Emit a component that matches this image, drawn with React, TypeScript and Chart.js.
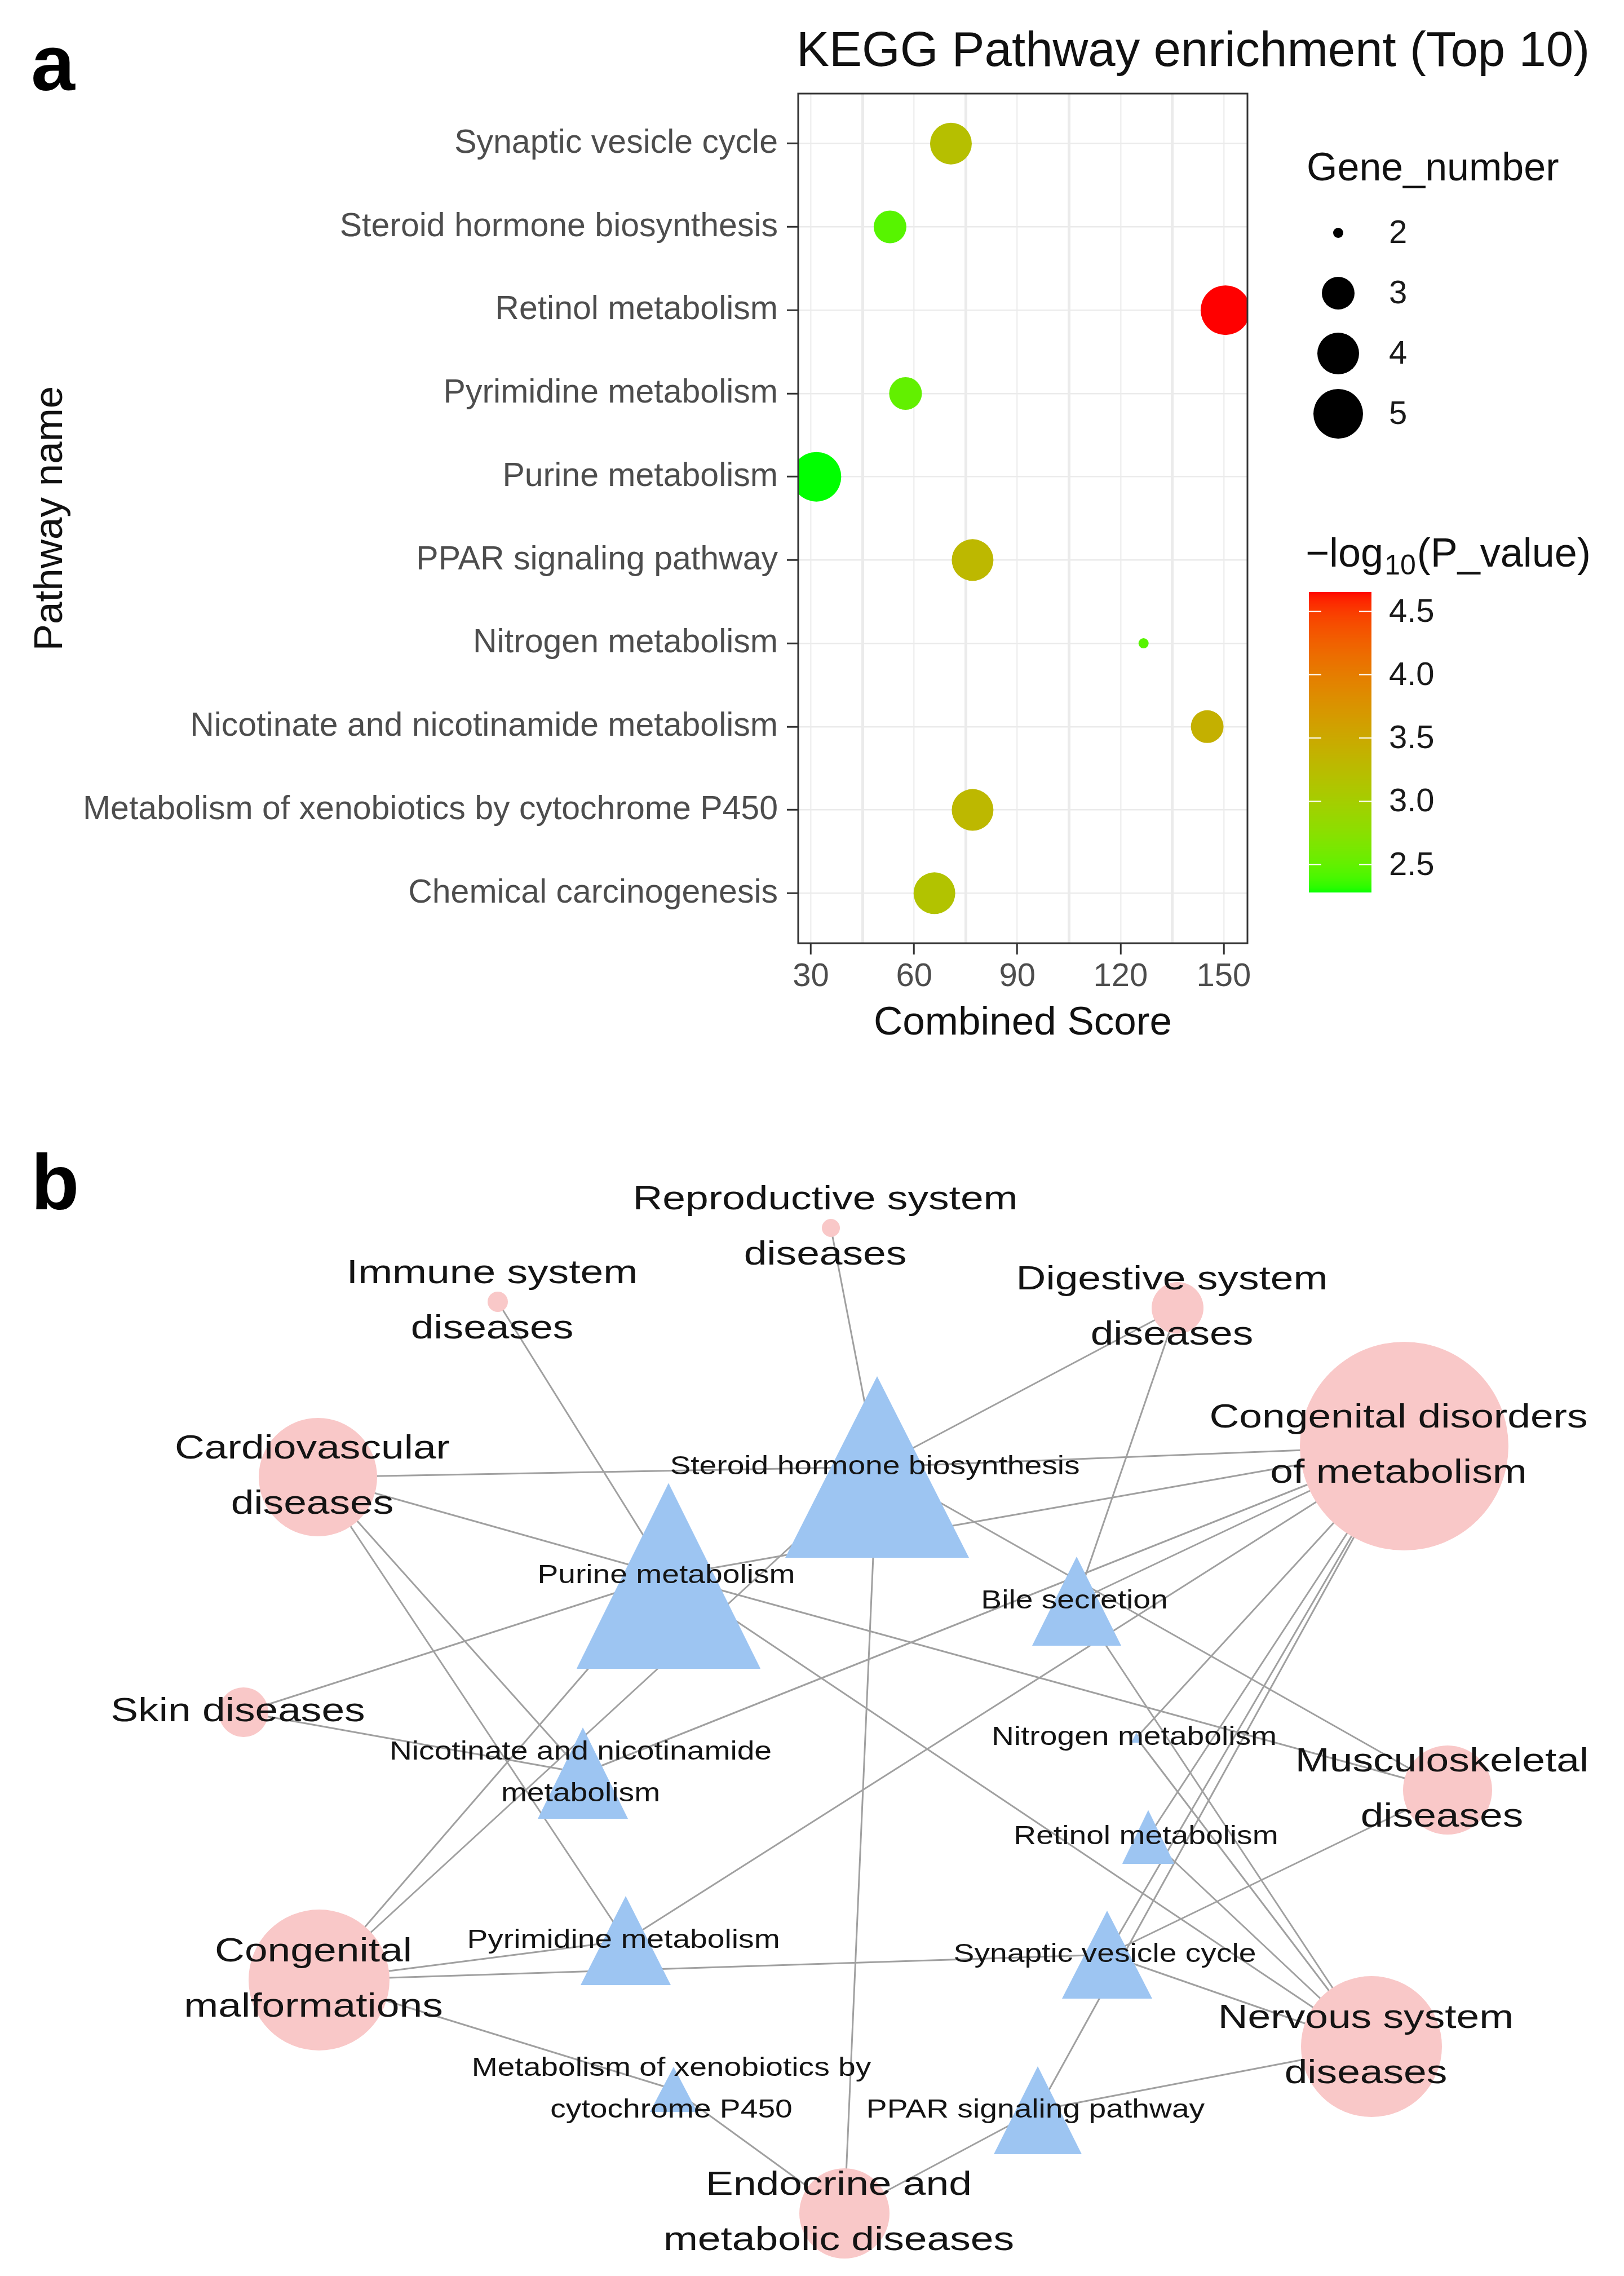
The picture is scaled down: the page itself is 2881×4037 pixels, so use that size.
import React, { useEffect, useRef } from 'react';
import { Chart, registerables } from 'chart.js';

Chart.register(...registerables);

const FONT = "'Liberation Sans', Arial, Helvetica, sans-serif";

// ---------------- Panel a : KEGG bubble chart data ----------------
const pathwaysA = [
  'Synaptic vesicle cycle',
  'Steroid hormone biosynthesis',
  'Retinol metabolism',
  'Pyrimidine metabolism',
  'Purine metabolism',
  'PPAR signaling pathway',
  'Nitrogen metabolism',
  'Nicotinate and nicotinamide metabolism',
  'Metabolism of xenobiotics by cytochrome P450',
  'Chemical carcinogenesis',
];
const combinedScore = [70.7, 53.0, 150.5, 57.5, 31.6, 77.0, 126.7, 145.2, 77.0, 65.9];
const geneNumber = [4, 3, 5, 3, 5, 4, 2, 3, 4, 4];
const negLog10P = [3.2, 2.45, 4.654, 2.5, 2.28, 3.3, 2.45, 3.4, 3.3, 3.15];
const xTickValues = [30, 45, 60, 75, 90, 105, 120, 135, 150];
const sizeLegendValues = [2, 3, 4, 5];
const colorLegendTicks = [4.5, 4.0, 3.5, 3.0, 2.5];

// ---------------- Panel b : network data ----------------
const diseaseNames = [
  'Reproductive system diseases',
  'Immune system diseases',
  'Digestive system diseases',
  'Congenital disorders of metabolism',
  'Cardiovascular diseases',
  'Skin diseases',
  'Musculoskeletal diseases',
  'Congenital malformations',
  'Nervous system diseases',
  'Endocrine and metabolic diseases',
];
const diseaseLabelLines = [
  ['Reproductive system', 'diseases'],
  ['Immune system', 'diseases'],
  ['Digestive system', 'diseases'],
  ['Congenital disorders', 'of metabolism'],
  ['Cardiovascular', 'diseases'],
  ['Skin diseases'],
  ['Musculoskeletal', 'diseases'],
  ['Congenital', 'malformations'],
  ['Nervous system', 'diseases'],
  ['Endocrine and', 'metabolic diseases'],
];
// network layout (node centres) and node sizes
const diseaseX = [1474, 883, 2089, 2491, 564, 432, 2568, 566, 2433, 1498];
const diseaseY = [2178, 2309, 2320, 2565, 2620, 3037, 3175, 3512, 3630, 3926];
const diseaseRadius = [16, 18, 46, 185, 105, 44, 79, 125, 125, 80];

const pathwayNames = [
  'Steroid hormone biosynthesis',
  'Purine metabolism',
  'Bile secretion',
  'Nicotinate and nicotinamide metabolism',
  'Nitrogen metabolism',
  'Retinol metabolism',
  'Pyrimidine metabolism',
  'Synaptic vesicle cycle',
  'Metabolism of xenobiotics by cytochrome P450',
  'PPAR signaling pathway',
];
const pathwayLabelLines = [
  ['Steroid hormone biosynthesis'],
  ['Purine metabolism'],
  ['Bile secretion'],
  ['Nicotinate and nicotinamide', 'metabolism'],
  ['Nitrogen metabolism'],
  ['Retinol metabolism'],
  ['Pyrimidine metabolism'],
  ['Synaptic vesicle cycle'],
  ['Metabolism of xenobiotics by', 'cytochrome P450'],
  ['PPAR signaling pathway'],
];
const pathwayX = [1556, 1186, 1910, 1034, 2016, 2037, 1110, 1964, 1195, 1841];
const pathwayY = [2602, 2795, 2840, 3145, 3082, 3258, 3442, 3467, 3706, 3743];
const pathwayHalfWidth = [163, 163, 79, 80, 9, 46, 80, 80, 42, 78];
const pathwayHeight = [322, 329, 158, 162, 18, 95, 158, 156, 80, 156];

const edgePathway = [
  'Steroid hormone biosynthesis', 'Steroid hormone biosynthesis', 'Steroid hormone biosynthesis',
  'Steroid hormone biosynthesis', 'Steroid hormone biosynthesis', 'Steroid hormone biosynthesis',
  'Steroid hormone biosynthesis',
  'Purine metabolism', 'Purine metabolism', 'Purine metabolism', 'Purine metabolism',
  'Purine metabolism', 'Purine metabolism', 'Purine metabolism',
  'Bile secretion', 'Bile secretion', 'Bile secretion',
  'Nicotinate and nicotinamide metabolism', 'Nicotinate and nicotinamide metabolism',
  'Nicotinate and nicotinamide metabolism',
  'Nitrogen metabolism', 'Nitrogen metabolism',
  'Retinol metabolism', 'Retinol metabolism',
  'Pyrimidine metabolism', 'Pyrimidine metabolism', 'Pyrimidine metabolism',
  'Synaptic vesicle cycle', 'Synaptic vesicle cycle', 'Synaptic vesicle cycle', 'Synaptic vesicle cycle',
  'Metabolism of xenobiotics by cytochrome P450', 'Metabolism of xenobiotics by cytochrome P450',
  'PPAR signaling pathway', 'PPAR signaling pathway', 'PPAR signaling pathway',
];
const edgeDisease = [
  'Reproductive system diseases', 'Digestive system diseases', 'Cardiovascular diseases',
  'Congenital disorders of metabolism', 'Endocrine and metabolic diseases', 'Musculoskeletal diseases',
  'Congenital malformations',
  'Immune system diseases', 'Cardiovascular diseases', 'Skin diseases', 'Congenital disorders of metabolism',
  'Musculoskeletal diseases', 'Nervous system diseases', 'Congenital malformations',
  'Digestive system diseases', 'Congenital disorders of metabolism', 'Nervous system diseases',
  'Cardiovascular diseases', 'Skin diseases', 'Congenital disorders of metabolism',
  'Congenital disorders of metabolism', 'Nervous system diseases',
  'Congenital disorders of metabolism', 'Nervous system diseases',
  'Cardiovascular diseases', 'Congenital malformations', 'Congenital disorders of metabolism',
  'Congenital malformations', 'Congenital disorders of metabolism', 'Musculoskeletal diseases', 'Nervous system diseases',
  'Congenital malformations', 'Endocrine and metabolic diseases',
  'Congenital disorders of metabolism', 'Endocrine and metabolic diseases', 'Nervous system diseases',
];

// ---------------- styling constants ----------------
const PAGE_W = 2881;
const PAGE_H = 4037;
const CANVAS_A_H = 1950;
const A_LEFT = 1416;
const A_RIGHT = 2213;
const A_TOP = 166;
const A_BOTTOM = 1673;
const SIZE_RADIUS: Record<number, number> = { 2: 9, 3: 29, 4: 37, 5: 44 };
const DISEASE_COLOR = '#F9C8C8';
const PATHWAY_COLOR = '#9DC5F2';
const EDGE_COLOR = '#A0A0A0';

// ---------------- CIELAB colour ramp (green -> red) ----------------
function srgb2lin(c: number) {
  c /= 255;
  return c <= 0.04045 ? c / 12.92 : Math.pow((c + 0.055) / 1.055, 2.4);
}
function lin2srgb(c: number) {
  const v = c <= 0.0031308 ? 12.92 * c : 1.055 * Math.pow(c, 1 / 2.4) - 0.055;
  return Math.round(Math.max(0, Math.min(1, v)) * 255);
}
function rgb2lab(rgb: number[]) {
  const R = srgb2lin(rgb[0]), G = srgb2lin(rgb[1]), B = srgb2lin(rgb[2]);
  const X = (0.4124564 * R + 0.3575761 * G + 0.1804375 * B) / 0.95047;
  const Y = 0.2126729 * R + 0.7151522 * G + 0.072175 * B;
  const Z = (0.0193339 * R + 0.119192 * G + 0.9503041 * B) / 1.08883;
  const f = (t: number) => (t > 216 / 24389 ? Math.cbrt(t) : ((24389 / 27) * t + 16) / 116);
  const fx = f(X), fy = f(Y), fz = f(Z);
  return [116 * fy - 16, 500 * (fx - fy), 200 * (fy - fz)];
}
function lab2rgb(lab: number[]) {
  const fy = (lab[0] + 16) / 116;
  const fx = fy + lab[1] / 500;
  const fz = fy - lab[2] / 200;
  const finv = (t: number) => (t * t * t > 216 / 24389 ? t * t * t : (116 * t - 16) / (24389 / 27));
  const X = finv(fx) * 0.95047, Y = finv(fy), Z = finv(fz) * 1.08883;
  const R = 3.2404542 * X - 1.5371385 * Y - 0.4985314 * Z;
  const G = -0.969266 * X + 1.8760108 * Y + 0.041556 * Z;
  const B = 0.0556434 * X - 0.2040259 * Y + 1.0572252 * Z;
  return [lin2srgb(R), lin2srgb(G), lin2srgb(B)];
}
const LAB_LOW = rgb2lab([0, 255, 0]);
const LAB_HIGH = rgb2lab([255, 0, 0]);
const P_MIN = Math.min(...negLog10P);
const P_MAX = Math.max(...negLog10P);
function colorFor(v: number) {
  const t = Math.max(0, Math.min(1, (v - P_MIN) / (P_MAX - P_MIN)));
  const lab = LAB_LOW.map((l, i) => l + (LAB_HIGH[i] - l) * t);
  const c = lab2rgb(lab);
  return `rgb(${c[0]},${c[1]},${c[2]})`;
}

// ---------------- Panel a plugin (frame, titles, legends) ----------------
const panelAPlugin = {
  id: 'panelAExtras',
  afterDatasetsDraw(chart: any) {
    const { ctx, chartArea: ca } = chart;
    ctx.save();
    ctx.strokeStyle = '#333333';
    ctx.lineWidth = 3;
    ctx.strokeRect(ca.left, ca.top, ca.right - ca.left, ca.bottom - ca.top);
    ctx.restore();
  },
  afterDraw(chart: any) {
    const { ctx, chartArea: ca } = chart;
    ctx.save();
    ctx.fillStyle = '#000000';
    ctx.textAlign = 'left';
    ctx.textBaseline = 'alphabetic';
    ctx.font = `bold 140px ${FONT}`;
    ctx.fillText('a', 55, 160);

    ctx.textBaseline = 'middle';
    ctx.font = `87px ${FONT}`;
    ctx.fillStyle = '#111111';
    ctx.fillText('KEGG Pathway enrichment (Top 10)', ca.left - 3, 93);

    ctx.textAlign = 'center';
    ctx.font = `71px ${FONT}`;
    ctx.fillText('Combined Score', (ca.left + ca.right) / 2, 1815);
    ctx.save();
    ctx.translate(90, (ca.top + ca.bottom) / 2);
    ctx.rotate(-Math.PI / 2);
    ctx.fillText('Pathway name', 0, 0);
    ctx.restore();

    // size legend
    ctx.textAlign = 'left';
    ctx.font = `70px ${FONT}`;
    ctx.fillText('Gene_number', 2318, 301);
    ctx.font = `58px ${FONT}`;
    sizeLegendValues.forEach((n, i) => {
      const y = 413 + i * 107;
      ctx.fillStyle = '#000000';
      ctx.beginPath();
      ctx.arc(2374, y, SIZE_RADIUS[n], 0, Math.PI * 2);
      ctx.fill();
      ctx.fillStyle = '#1A1A1A';
      ctx.fillText(String(n), 2464, y + 2);
    });

    // colour legend title: -log10(P_value)
    ctx.fillStyle = '#111111';
    ctx.textBaseline = 'alphabetic';
    let tx = 2316;
    const base = 1005;
    ctx.font = `72px ${FONT}`;
    ctx.fillText('\u2212log', tx, base);
    tx += ctx.measureText('\u2212log').width + 2;
    ctx.font = `50px ${FONT}`;
    ctx.fillText('10', tx, base + 14);
    tx += ctx.measureText('10').width + 2;
    ctx.font = `72px ${FONT}`;
    ctx.fillText('(P_value)', tx, base);

    // colour bar
    const bl = 2322, br = 2433, bt = 1050, bb = 1583;
    for (let y = bt; y < bb; y++) {
      const v = P_MAX - ((y + 0.5 - bt) / (bb - bt)) * (P_MAX - P_MIN);
      ctx.fillStyle = colorFor(v);
      ctx.fillRect(bl, y, br - bl, 1);
    }
    ctx.strokeStyle = '#FFFFFF';
    ctx.lineWidth = 2;
    ctx.font = `58px ${FONT}`;
    ctx.textBaseline = 'middle';
    ctx.fillStyle = '#1A1A1A';
    colorLegendTicks.forEach((v) => {
      const y = bt + ((P_MAX - v) / (P_MAX - P_MIN)) * (bb - bt);
      ctx.beginPath();
      ctx.moveTo(bl, y);
      ctx.lineTo(bl + 22, y);
      ctx.moveTo(br - 22, y);
      ctx.lineTo(br, y);
      ctx.stroke();
      ctx.fillText(v.toFixed(1), 2464, y + 2);
    });
    ctx.restore();
  },
};

// ---------------- Panel b plugin (labels) ----------------
function drawScaledText(ctx: any, text: string, x: number, y: number, sx: number) {
  ctx.save();
  ctx.translate(x, y);
  ctx.scale(sx, 1);
  ctx.fillText(text, 0, 0);
  ctx.restore();
}

const panelBPlugin = {
  id: 'panelBLabels',
  afterDatasetsDraw(chart: any) {
    const { ctx } = chart;
    const xs = chart.scales.x;
    const ys = chart.scales.y;
    ctx.save();
    ctx.fillStyle = '#000000';
    ctx.textAlign = 'left';
    ctx.textBaseline = 'alphabetic';
    ctx.font = `bold 140px ${FONT}`;
    ctx.fillText('b', 55, ys.getPixelForValue(2145));

    ctx.fillStyle = '#141414';
    ctx.textAlign = 'center';
    ctx.textBaseline = 'middle';
    ctx.font = `59px ${FONT}`;
    diseaseLabelLines.forEach((lines, i) => {
      const px = xs.getPixelForValue(diseaseX[i]) - 10;
      const py = ys.getPixelForValue(diseaseY[i]);
      const step = 98;
      const y0 = py - ((lines.length - 1) * step) / 2;
      lines.forEach((ln, k) => drawScaledText(ctx, ln, px, y0 + k * step, 1.24));
    });
    ctx.font = `46px ${FONT}`;
    pathwayLabelLines.forEach((lines, i) => {
      const px = xs.getPixelForValue(pathwayX[i]) - 4;
      const py = ys.getPixelForValue(pathwayY[i]);
      const step = 74;
      const y0 = py - ((lines.length - 1) * step) / 2;
      lines.forEach((ln, k) => drawScaledText(ctx, ln, px, y0 + k * step, 1.2));
    });
    ctx.restore();
  },
};

export default function App() {
  const refA = useRef<HTMLCanvasElement>(null);
  const refB = useRef<HTMLCanvasElement>(null);

  useEffect(() => {
    const isMajor = (c: any) => c && c.tick && Math.abs(c.tick.value % 30) < 1e-6;

    const chartA = new Chart(refA.current as HTMLCanvasElement, {
      type: 'scatter',
      data: {
        datasets: [
          {
            data: combinedScore.map((x, i) => ({ x, y: i })),
            pointRadius: geneNumber.map((n) => SIZE_RADIUS[n]),
            pointHoverRadius: geneNumber.map((n) => SIZE_RADIUS[n]),
            pointBackgroundColor: negLog10P.map((v) => colorFor(v)),
            pointBorderWidth: 0,
            pointBorderColor: 'rgba(0,0,0,0)',
          },
        ],
      },
      options: {
        responsive: false,
        animation: false,
        devicePixelRatio: 1,
        events: [],
        layout: { autoPadding: false, padding: { left: 0, top: A_TOP, right: PAGE_W - A_RIGHT, bottom: 0 } },
        plugins: { legend: { display: false }, tooltip: { enabled: false }, title: { display: false } },
        scales: {
          x: {
            type: 'linear',
            position: 'bottom',
            min: 26.3,
            max: 156.9,
            afterBuildTicks: (s: any) => {
              s.ticks = xTickValues.map((v) => ({ value: v }));
            },
            afterFit: (s: any) => {
              s.height = CANVAS_A_H - A_BOTTOM;
            },
            ticks: {
              autoSkip: false,
              maxRotation: 0,
              padding: 5,
              color: '#4D4D4D',
              font: { family: FONT, size: 58 },
              callback: (v: any) => (Math.abs(v % 30) < 1e-6 ? String(v) : ''),
            },
            grid: {
              color: (c: any) => (isMajor(c) ? '#F0F0F0' : '#EBEBEB'),
              lineWidth: (c: any) => (isMajor(c) ? 2.5 : 5),
              tickLength: 20,
              tickColor: (c: any) => (isMajor(c) ? '#333333' : 'rgba(0,0,0,0)'),
              tickWidth: 3,
            },
            border: { display: false },
          },
          y: {
            type: 'linear',
            position: 'left',
            min: -0.6,
            max: 9.6,
            reverse: true,
            afterBuildTicks: (s: any) => {
              s.ticks = pathwaysA.map((_, i) => ({ value: i }));
            },
            afterFit: (s: any) => {
              s.width = A_LEFT;
            },
            ticks: {
              autoSkip: false,
              padding: 16,
              color: '#4D4D4D',
              font: { family: FONT, size: 59 },
              callback: (v: any) => pathwaysA[Math.round(v)] ?? '',
            },
            grid: {
              color: '#EBEBEB',
              lineWidth: 2.5,
              tickLength: 20,
              tickColor: '#333333',
              tickWidth: 3,
            },
            border: { display: false },
          },
        },
      } as any,
      plugins: [panelAPlugin],
    });

    // triangle images for pathway nodes
    const triangles = pathwayHalfWidth.map((hw, i) => {
      const h = pathwayHeight[i];
      const c = document.createElement('canvas');
      c.width = Math.round(hw * 2);
      c.height = Math.round(h);
      const g = c.getContext('2d') as CanvasRenderingContext2D;
      g.fillStyle = PATHWAY_COLOR;
      g.beginPath();
      g.moveTo(hw, 0);
      g.lineTo(2 * hw, h);
      g.lineTo(0, h);
      g.closePath();
      g.fill();
      return c;
    });

    const edgeDatasets = edgePathway.map((p, i) => {
      const a = pathwayNames.indexOf(p);
      const b = diseaseNames.indexOf(edgeDisease[i]);
      return {
        data: [
          { x: pathwayX[a], y: pathwayY[a] },
          { x: diseaseX[b], y: diseaseY[b] },
        ],
        showLine: true,
        borderColor: EDGE_COLOR,
        borderWidth: 3,
        pointRadius: 0,
        pointHoverRadius: 0,
        order: 2,
      };
    });

    const chartB = new Chart(refB.current as HTMLCanvasElement, {
      type: 'scatter',
      data: {
        datasets: [
          ...edgeDatasets,
          {
            data: diseaseX.map((x, i) => ({ x, y: diseaseY[i] })),
            pointRadius: diseaseRadius,
            pointHoverRadius: diseaseRadius,
            pointBackgroundColor: DISEASE_COLOR,
            pointBorderWidth: 0,
            pointBorderColor: 'rgba(0,0,0,0)',
            order: 1,
          },
          {
            data: pathwayX.map((x, i) => ({ x, y: pathwayY[i] })),
            pointStyle: triangles,
            pointRadius: 10,
            pointHoverRadius: 10,
            pointBorderWidth: 0,
            order: 0,
          },
        ] as any,
      },
      options: {
        responsive: false,
        animation: false,
        devicePixelRatio: 1,
        events: [],
        layout: { autoPadding: false, padding: 0 },
        plugins: { legend: { display: false }, tooltip: { enabled: false }, title: { display: false } },
        scales: {
          x: { type: 'linear', display: false, min: 0, max: PAGE_W },
          y: { type: 'linear', display: false, min: CANVAS_A_H, max: PAGE_H, reverse: true },
        },
      } as any,
      plugins: [panelBPlugin],
    });

    return () => {
      chartA.destroy();
      chartB.destroy();
    };
  }, []);

  return (
    <div
      style={{
        position: 'absolute',
        left: 0,
        top: 0,
        width: PAGE_W,
        height: PAGE_H,
        background: '#FFFFFF',
        overflow: 'hidden',
      }}
    >
      <canvas
        ref={refA}
        width={PAGE_W}
        height={CANVAS_A_H}
        style={{ position: 'absolute', left: 0, top: 0, width: PAGE_W, height: CANVAS_A_H }}
      />
      <canvas
        ref={refB}
        width={PAGE_W}
        height={PAGE_H - CANVAS_A_H}
        style={{ position: 'absolute', left: 0, top: CANVAS_A_H, width: PAGE_W, height: PAGE_H - CANVAS_A_H }}
      />
    </div>
  );
}
